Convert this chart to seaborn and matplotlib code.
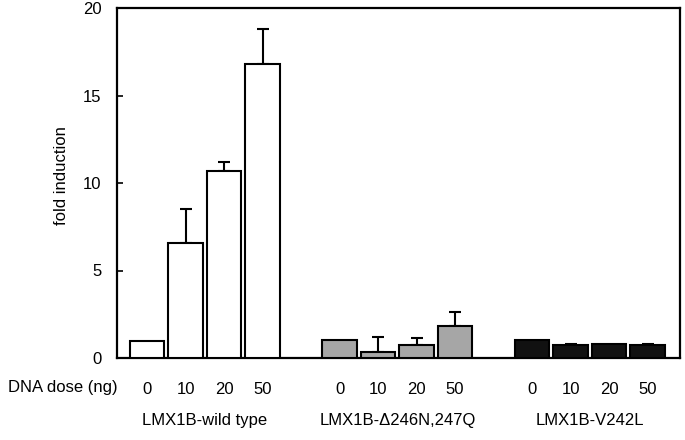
import matplotlib
matplotlib.use("Agg")
import matplotlib.pyplot as plt
import seaborn as sns
import pandas as pd
import numpy as np

groups = ["LMX1B-wild type", "LMX1B-\u0394246N,247Q", "LMX1B-V242L"]
doses = ["0", "10", "20", "50"]
wild_type = [1.0, 6.6, 10.7, 16.8]
wild_type_err = [0.0, 1.9, 0.5, 2.0]
delta_mut = [1.05, 0.35, 0.75, 1.85]
delta_mut_err = [0.0, 0.85, 0.4, 0.8]
v242l = [1.05, 0.72, 0.78, 0.74]
v242l_err = [0.0, 0.06, 0.0, 0.07]
colors = ["white", "#a6a6a6", "#111111"]

vals = [wild_type, delta_mut, v242l]
errs = [wild_type_err, delta_mut_err, v242l_err]
rows = []
for gi, g in enumerate(groups):
    for di, d in enumerate(doses):
        rows.append(dict(group=g, dose=d, pos=gi * 5 + di, value=vals[gi][di], err=errs[gi][di]))
df = pd.DataFrame(rows)

sns.set_style("white")
plt.rcParams['font.family'] = ['Liberation Sans', 'DejaVu Sans']
plt.rcParams['text.color'] = 'black'
plt.rcParams['xtick.color'] = 'black'
plt.rcParams['ytick.color'] = 'black'

fig = plt.figure(figsize=(6.85, 4.4), dpi=100)
ax = fig.add_axes([117/685, 1 - 358/440, (680 - 117)/685, 350/440])

sns.barplot(data=df, x="pos", y="value", hue="group", palette=colors,
            native_scale=True, width=0.9, dodge=False, edgecolor="black",
            linewidth=1.5, errorbar=None, legend=False, ax=ax, zorder=3)

for _, r in df.iterrows():
    if r["err"] > 0:
        ax.errorbar(r["pos"], r["value"], yerr=[[0], [r["err"]]], fmt="none",
                    ecolor="black", elinewidth=1.5, capsize=4, capthick=1.5, zorder=2)

fs = 12
ax.set_xlim(-0.78, 13.84)
ax.set_ylim(0, 20)
ax.set_yticks([0, 5, 10, 15, 20])
ax.set_xticks(df["pos"].tolist())
ax.set_xticklabels(doses * 3)
ax.tick_params(axis="x", length=0, pad=17, labelsize=fs, colors="black")
ax.tick_params(axis="y", direction="in", length=4, width=1.2, left=True, pad=11, labelsize=fs, colors="black")
for s in ax.spines.values():
    s.set_visible(True)
    s.set_color("black")
    s.set_linewidth(1.6)
ax.set_xlabel("")
ax.set_ylabel("")

fig.text(62/685, 1 - 176/440, "fold induction", rotation=90, ha="center", va="center", fontsize=fs)
fig.text(8/685, 1 - 387/440, "DNA dose (ng)", ha="left", va="center", fontsize=fs)
for gi, g in enumerate(groups):
    cx = gi * 5 + 1.5
    xf = ax.transData.transform((cx, 0))[0] / fig.bbox.width
    fig.text(xf, 1 - 420/440, g, ha="center", va="center", fontsize=fs)

fig.savefig("out.png", dpi=100)
